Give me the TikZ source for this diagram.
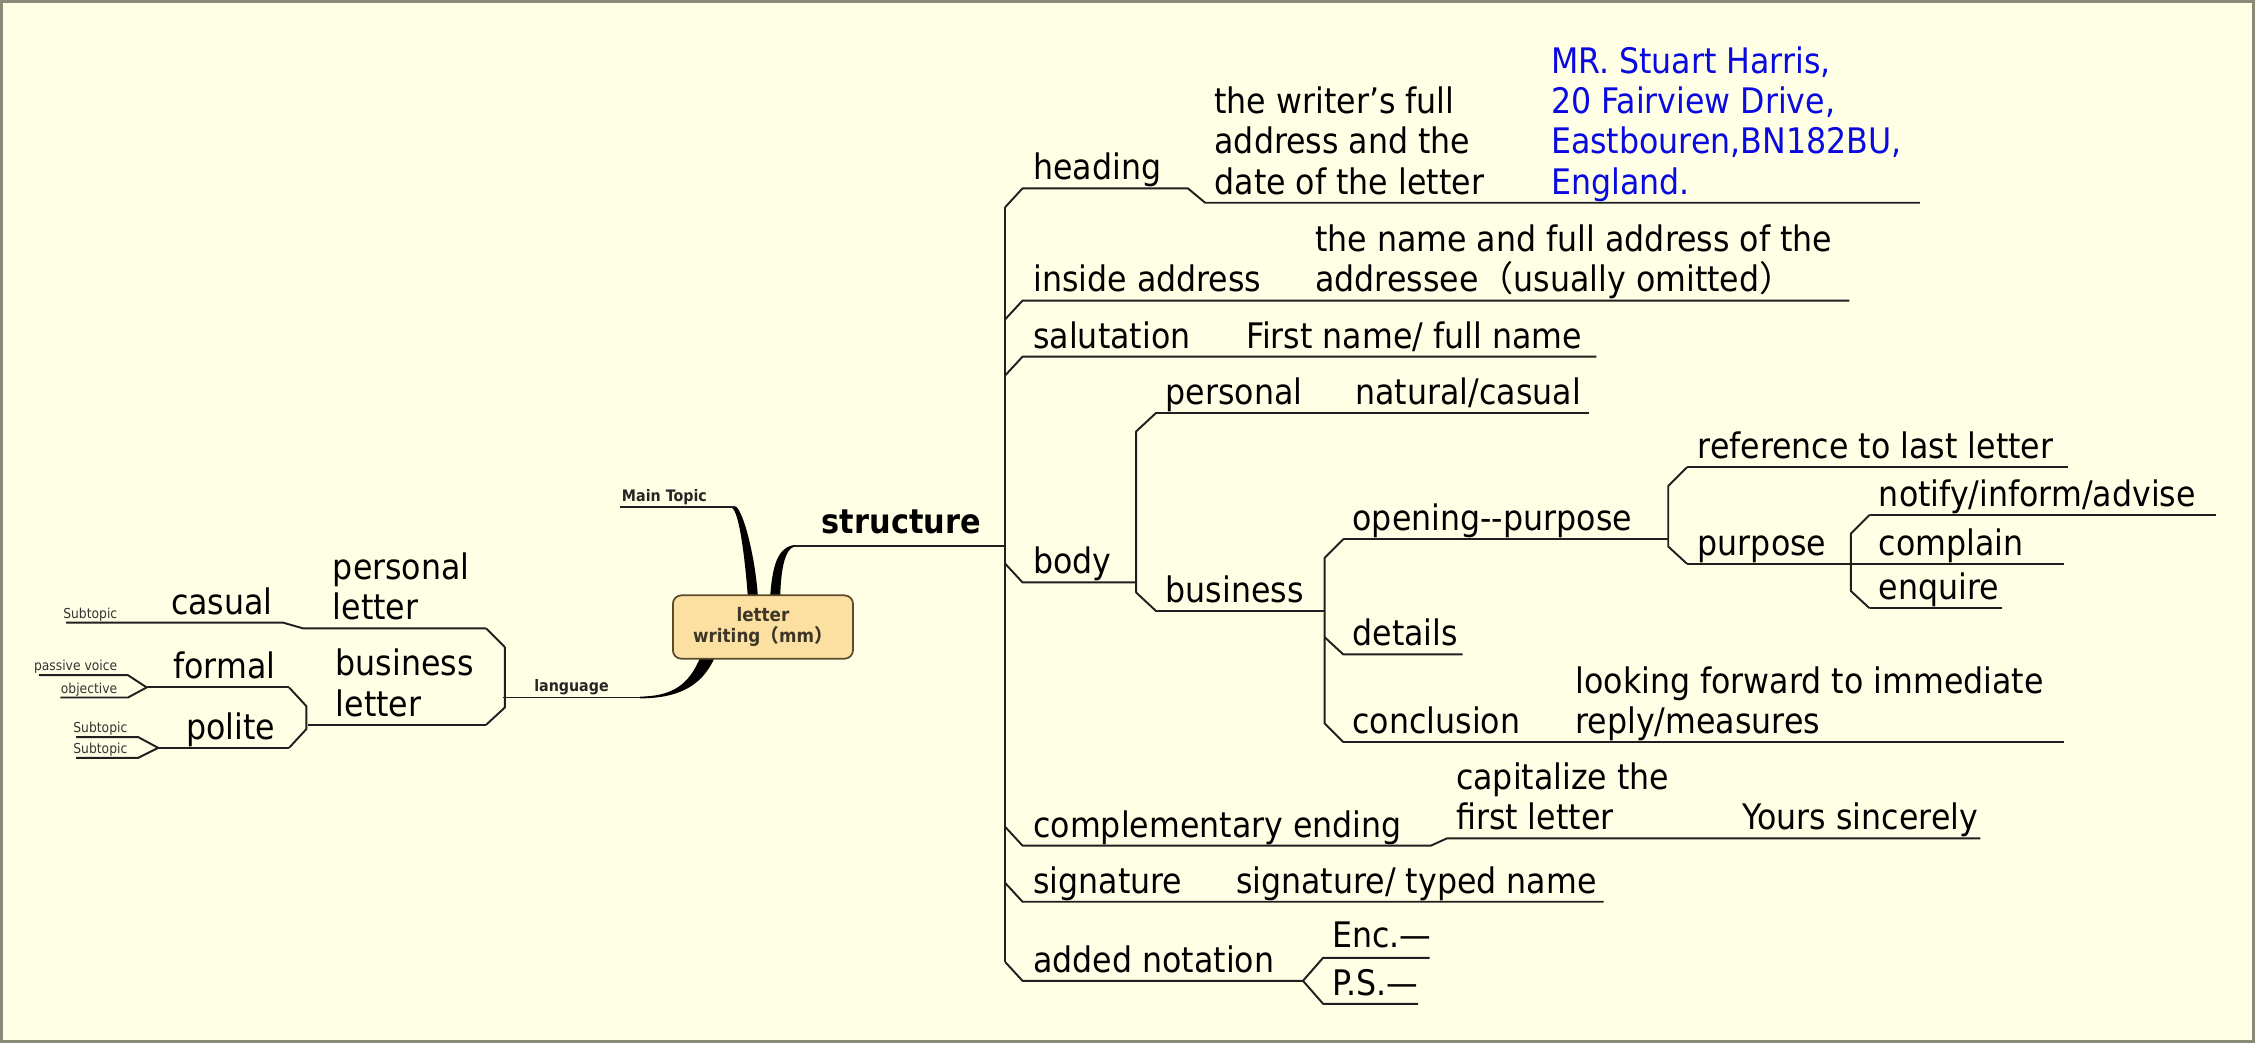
\documentclass[tikz,border=0pt]{standalone}
\usepackage{fontspec}
\setmainfont{DejaVu Sans}[FakeStretch=0.9]
\newfontfamily\cjkfont{Noto Sans CJK SC}
\usetikzlibrary{calc}
\definecolor{mbg}{HTML}{FFFFE6}
\definecolor{mframe}{HTML}{8A8A78}
\definecolor{mroot}{HTML}{FCE0A2}
\definecolor{mrootedge}{HTML}{5C4A2A}
\definecolor{mroottext}{HTML}{3D3526}
\definecolor{mblue}{HTML}{0A0AE0}
\newcommand\mmtopic{\fontsize{10}{11.46}\selectfont}
\newcommand\mmsmall{\fontsize{3.9}{4.5}\selectfont}
\newcommand\mmlabel{\fontsize{4.5}{5}\selectfont\bfseries}
\newcommand\mmroot{\fontsize{5.3}{6.1}\selectfont\bfseries}

\begin{document}
\begin{tikzpicture}[x=0.014381cm, y=-0.014381cm,
  topic/.style={anchor=base west, inner sep=0pt, align=left, font=\mmtopic},
  topicr/.style={anchor=base east, inner sep=0pt, align=right, font=\mmtopic},
  subtopic/.style={anchor=base east, inner sep=0pt, font=\mmsmall, text=black!80},
  mainlabel/.style={anchor=base west, inner sep=0pt, font=\mmlabel, text=black!85},
  rib/.style={line width=0.55pt, draw=black!88, line join=round},
  root/.style={draw=mrootedge, fill=mroot, line width=0.5pt, rounded corners=2.4pt,
    minimum width=1.8cm, minimum height=0.633cm, align=center, font=\mmroot,
    text=mroottext, inner sep=0pt}]

  % page and frame
  \useasboundingbox (0,0) rectangle (1568,725);
  \fill[mbg] (0,0) rectangle (1568,725);
  \draw[mframe, line width=0.8pt] (0.8,0.8) rectangle (1567.2,724.2);

  % tapered main branches out of the central topic
  \fill[black] (511,352) .. controls (516,352.5) and (525,385) .. (527,415)
    -- (520,415) .. controls (518,388) and (514,356) .. (509,353.2) -- cycle;
  \fill[black] (535.5,415) .. controls (537,395) and (540,381) .. (552,379)
    -- (552,380.2) .. controls (546,382) and (543,395) .. (542.5,415) -- cycle;
  \fill[black] (497,457) .. controls (488,478) and (470,485.6) .. (445,485.6)
    -- (445,484.4) .. controls (468,484) and (479,476) .. (487,457) -- cycle;

  % central topic
  \node[root] (root) at (530.5,436) {letter\\writing{\cjkfont （}mm{\cjkfont ）}};

  % ---------------- left side ----------------
  \coordinate (mainT) at (431,352.5);
  \draw[rib] (mainT) -- (511,352.5);
  \node[mainlabel] (maintopic) at (432,349) {Main Topic};

  \coordinate (lang) at (350,485);
  \draw[rib] (lang) -- (445,485);
  \node[mainlabel] (language) at (371,481) {language};
  \draw[rib] (338,437) -- (351,450) -- (351,492) -- (338,504);

  % personal letter -> casual -> Subtopic
  \draw[rib] (338,437) -- (211,437) -- (197,433) -- (46,433);
  \node[topic] (persletter) at (231,431) {personal\\letter};
  \node[topicr] (casual) at (190,427) {casual};
  \node[subtopic] (subA) at (82,430) {Subtopic};

  % business letter -> formal, polite
  \draw[rib] (338,504) -- (214,504);
  \node[topic] (busletter) at (233,498) {business\\letter};
  \draw[rib] (201,478) -- (213,491) -- (213,507) -- (201,520);
  \draw[rib] (201,478) -- (102,478);
  \node[topicr] (formal) at (192,472) {formal};
  \draw[rib] (27,469.5) -- (89,469.5) -- (102,478) -- (89,485) -- (42,485);
  \node[subtopic] (passive) at (82,466.5) {passive voice};
  \node[subtopic] (objective) at (82,482) {objective};
  \draw[rib] (201,520) -- (110,520);
  \node[topicr] (polite) at (192,514) {polite};
  \draw[rib] (53,512.5) -- (96,512.5) -- (110,520) -- (96,527) -- (53,527);
  \node[subtopic] (subB) at (89,509.5) {Subtopic};
  \node[subtopic] (subC) at (89,524) {Subtopic};

  % ---------------- right side ----------------
  \coordinate (trunkT) at (699,144);
  \coordinate (trunkB) at (699,669);
  \draw[rib] (552,379.5) -- (699,379.5);
  \draw[rib] (trunkT) -- (trunkB);
  \node[anchor=base west, inner sep=0pt, font=\fontsize{9.6}{11}\selectfont\bfseries] (structure) at (571,371) {structure};

  % heading
  \draw[rib] (trunkT) -- (711,131) -- (826,131) -- (838,141) -- (1335,141);
  \node[topic] (heading) at (718,125) {heading};
  \node[topic] (headingNote) at (844,135) {the writer’s full\\address and the\\date of the letter};
  \node[topic, text=mblue] (headingAddr) at (1078,135) {MR. Stuart Harris,\\20 Fairview Drive,\\Eastbouren,BN182BU,\\England.};

  % inside address
  \draw[rib] (699,222) -- (711,209) -- (1286,209);
  \node[topic] (inside) at (718,203) {inside address};
  \node[topic] (insideNote) at (914,203) {the name and full address of the\\addressee{\cjkfont （}usually omitted{\cjkfont ）}};

  % salutation
  \draw[rib] (699,261) -- (711,248) -- (1110,248);
  \node[topic] (salut) at (718,242) {salutation};
  \node[topic] (salutNote) at (866,242) {First name/ full name};

  % body
  \draw[rib] (699,392) -- (711,405) -- (790,405);
  \node[topic] (body) at (718,399) {body};
  \draw[rib] (804,287) -- (790,300) -- (790,412) -- (804,425);
  \draw[rib] (804,287) -- (1105,287);
  \node[topic] (personal) at (810,281) {personal};
  \node[topic] (personalNote) at (942,281) {natural/casual};
  \draw[rib] (804,425) -- (921,425);
  \node[topic] (business) at (810,419) {business};

  % business letter parts
  \draw[rib] (934,375) -- (921,388) -- (921,503) -- (934,516);
  \draw[rib] (934,375) -- (1160,375);
  \node[topic] (opening) at (940,369) {opening-{}-purpose};
  \draw[rib] (921,443) -- (934,455) -- (1017,455);
  \node[topic] (details) at (940,449) {details};
  \draw[rib] (934,516) -- (1435,516);
  \node[topic] (conclusion) at (940,510) {conclusion};
  \node[topic] (conclusionNote) at (1095,510) {looking forward to immediate\\reply/measures};

  % opening--purpose
  \draw[rib] (1173,325) -- (1160,338) -- (1160,380) -- (1173,392);
  \draw[rib] (1173,325) -- (1438,325);
  \node[topic] (reference) at (1180,319) {reference to last letter};
  \draw[rib] (1173,392) -- (1435,392);
  \node[topic] (purpose) at (1180,386) {purpose};
  \draw[rib] (1300,358) -- (1287,371) -- (1287,411) -- (1300,423);
  \draw[rib] (1300,358) -- (1541,358);
  \node[topic] (notify) at (1306,352) {notify/inform/advise};
  \node[topic] (complain) at (1306,386) {complain};
  \draw[rib] (1300,423) -- (1392,423);
  \node[topic] (enquire) at (1306,417) {enquire};

  % complementary ending
  \draw[rib] (699,575) -- (711,588) -- (995,588) -- (1006,583) -- (1377,583);
  \node[topic] (ending) at (718,582) {complementary ending};
  \node[topic] (endingNote) at (1012,577) {capitalize the\\first letter};
  \node[topic] (endingEx) at (1211,577) {Yours sincerely};

  % signature
  \draw[rib] (699,614) -- (711,627) -- (1115,627);
  \node[topic] (signature) at (718,621) {signature};
  \node[topic] (signatureNote) at (859,621) {signature/ typed name};

  % added notation
  \draw[rib] (trunkB) -- (711,682) -- (906,682);
  \node[topic] (notation) at (718,676) {added notation};
  \draw[rib] (994,666) -- (920,666) -- (906,682) -- (920,698) -- (986,698);
  \node[topic] (enc) at (926,659) {Enc.—};
  \node[topic] (ps) at (926,692) {P.S.—};
\end{tikzpicture}
\end{document}
